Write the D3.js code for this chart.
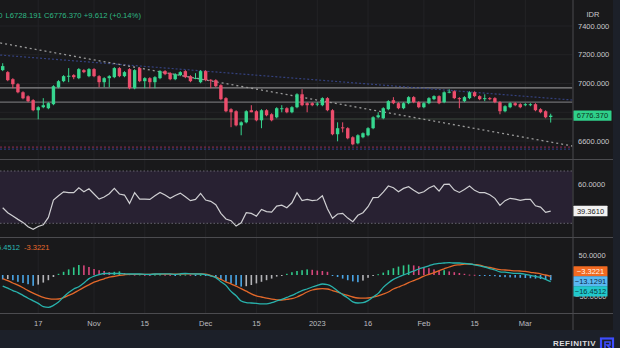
<!DOCTYPE html>
<html><head><meta charset="utf-8">
<script src="https://cdn.jsdelivr.net/npm/d3@7"></script>
<style>html,body{margin:0;padding:0;background:#1c2029;}svg{display:block;font-family:"Liberation Sans",Arial,sans-serif;}</style>
</head><body><svg id="c" width="620" height="348"></svg>
<script>
// ---------------- DATA ----------------
const dates = [
"2022-10-06","2022-10-07","2022-10-10","2022-10-11","2022-10-12","2022-10-13","2022-10-14","2022-10-17","2022-10-18","2022-10-19","2022-10-20","2022-10-21","2022-10-24","2022-10-25","2022-10-26","2022-10-27","2022-10-28","2022-10-31",
"2022-11-01","2022-11-02","2022-11-03","2022-11-04","2022-11-07","2022-11-08","2022-11-09","2022-11-10","2022-11-11","2022-11-14","2022-11-15","2022-11-16","2022-11-17","2022-11-18","2022-11-21","2022-11-22","2022-11-23","2022-11-24","2022-11-25","2022-11-28","2022-11-29","2022-11-30",
"2022-12-01","2022-12-02","2022-12-05","2022-12-06","2022-12-07","2022-12-08","2022-12-09","2022-12-12","2022-12-13","2022-12-14","2022-12-15","2022-12-16","2022-12-19","2022-12-20","2022-12-21","2022-12-22","2022-12-23","2022-12-26","2022-12-27","2022-12-28","2022-12-29","2022-12-30",
"2023-01-02","2023-01-03","2023-01-04","2023-01-05","2023-01-06","2023-01-09","2023-01-10","2023-01-11","2023-01-12","2023-01-13","2023-01-16","2023-01-17","2023-01-18","2023-01-19","2023-01-20","2023-01-24","2023-01-25","2023-01-26","2023-01-27","2023-01-30","2023-01-31",
"2023-02-01","2023-02-02","2023-02-03","2023-02-06","2023-02-07","2023-02-08","2023-02-09","2023-02-10","2023-02-13","2023-02-14","2023-02-15","2023-02-16","2023-02-17","2023-02-20","2023-02-21","2023-02-22","2023-02-23","2023-02-24","2023-02-27","2023-02-28",
"2023-03-01","2023-03-02","2023-03-03","2023-03-06","2023-03-07","2023-03-08"];

const open  = [7093,7079,7030,6995,6939,6911,6884,6814,6835,6828, 6856,6974,7016,7048,7058,7037,7093,7051,7100,7051, 7009,7037,7044,7107,7051,7100,6967,7107,7016,7037, 7009,7037,7086,7072,7030,7058,7086,7051,7034,7009, 7086,7026,7023,6988,6898,6821,6807,6709,6730,6814, 6807,6744,6814,6786,6765,6821,6828,6800,6835,6925, 6863,6863,6856,6849,6898,6814,6647,6695,6689,6626, 6584,6626,6640,6689,6765,6758,6821,6884,6863,6828, 6863,6905,6870,6835,6863,6891,6912,6870,6939,6946, 6898,6877,6898,6939,6912,6895,6898,6898,6870,6807, 6835,6863,6856,6849,6849,6856,6821,6807,6767];
const high  = [7141,7086,7037,7002,6946,6918,6891,6842,6898,6870, 6988,7023,7058,7107,7065,7107,7100,7107,7107,7058, 7044,7058,7114,7114,7086,7107,7100,7114,7044,7044, 7051,7093,7093,7079,7072,7086,7093,7058,7072,7093, 7093,7030,7030,6995,6905,6828,6814,6737,6814,6849, 6814,6821,6821,6793,6835,6849,6835,6842,6932,6960, 6870,6870,6870,6904,6905,6821,6730,6730,6696,6633, 6647,6660,6696,6772,6800,6835,6884,6905,6870,6870, 6912,6912,6877,6870,6905,6918,6918,6946,6960,6953, 6905,6912,6946,6946,6918,6925,6905,6905,6877,6849, 6870,6870,6863,6863,6863,6863,6828,6814,6790];
const low   = [7086,7016,6967,6932,6890,6870,6807,6751,6828,6821, 6849,6967,7009,7009,7030,7030,7072,7044,7044,6974, 6974,6974,7037,7044,7044,6960,6960,7009,6967,6967, 6967,7030,7058,7023,7023,7051,7037,7009,7030,7002, 7016,6967,6974,6884,6800,6696,6702,6640,6723,6800, 6737,6689,6772,6737,6758,6800,6793,6793,6828,6842, 6800,6842,6842,6842,6807,6640,6598,6660,6612,6570, 6577,6619,6633,6682,6758,6751,6814,6856,6821,6821, 6856,6863,6828,6828,6856,6884,6856,6863,6932,6891, 6828,6870,6891,6905,6884,6877,6884,6863,6786,6800, 6828,6842,6828,6842,6842,6807,6793,6758,6728.191];
const close = [7121,7023,6995,6939,6897,6877,6814,6835,6849,6863, 6981,7016,7051,7054,7044,7100,7079,7100,7051,7009, 7037,7051,7107,7051,7079,6967,7093,7016,7037,7009, 7044,7086,7065,7030,7065,7079,7044,7016,7039,7086, 7023,7020,6981,6891,6807,6800,6709,6730,6807,6800, 6744,6814,6779,6744,6828,6828,6800,6835,6925,6849, 6849,6849,6860,6898,6814,6647,6689,6690,6619,6577, 6640,6654,6689,6765,6779,6828,6877,6863,6828,6863, 6905,6870,6835,6863,6898,6912,6863,6939,6943,6898, 6891,6905,6939,6912,6891,6898,6891,6870,6807,6842, 6863,6849,6835,6856,6856,6814,6800,6765,6776.37];

const rsi = [41.9,38.1,35.5,33.0,30.7,27.4,25.4,27.6,28.9,34.5, 47.8,51.1,54.1,53.4,53.4,57.2,54.1,56.4,52.4,48.5, 50.1,52.6,56.7,52.4,51.6,45.2,53.4,48.5,48.5,48.3, 51.1,53.6,51.6,49.1,51.3,53.1,50.3,47.3,48.3,52.9, 47.8,46.8,44.2,37.6,33.3,32.0,27.9,30.4,38.1,37.6, 35.5,40.6,38.9,38.6,43.2,43.9,41.9,45.7,53.4,47.3, 48.3,47.3,47.8,51.1,41.2,33.8,37.1,37.6,34.0,31.2, 36.1,38.1,42.7,49.6,49.8,53.9,58.5,57.2,54.1,56.7, 58.0,55.2,52.9,54.1,57.0,58.7,54.6,59.8,60.0,55.4, 53.6,55.9,58.5,55.2,53.4,53.4,51.9,49.1,43.7,47.3, 49.1,48.5,47.5,48.3,48.3,43.4,42.4,38.3,39.361];

const macd = [-27.5,-33,-39,-44,-51,-58,-64.5,-71,-79,-81, -76,-67.5,-55,-44,-35,-29.5,-20,-9,-3,1.2, 3.7,3.7,3.7,3.7,3,2.5,2.5,2.5,1.7,1.2, 2.5,2.5,3,2.5,1.7,3,3.7,3,2.5,2.5, 1.2,-2,-6.7,-16.7,-26,-41,-52,-65,-69,-70, -71,-72,-72,-69,-65,-61,-56,-51,-45,-39, -35,-30,-26,-22.5,-24,-30,-40,-49,-57.5,-67, -70,-69,-64,-55,-46,-31,-20,-11,-5,0, 5,10,15,19,23,27,29,30,31,30, 30,29,27.5,25.5,23,20,16,12.5,8,7, 5.5,4,3.7,1.7,-1.2,-3.7,-6,-11,-16.4512];
const signal = [-9,-14,-20,-25.5,-32,-39,-45.5,-51,-56,-59, -60.5,-60,-56.5,-51,-45.5,-38,-31,-24.5,-18,-13.5, -9.5,-5.5,-3.2,-1.2,0.5,1.5,1.5,1.5,1.8,1.8, 2,2,2.2,2.3,2.2,2.4,2.6,2.7,2.7,2.6, 2.3,-1.5,-5,-11,-17,-22,-28,-34,-40.5,-47, -52,-55,-58,-60.5,-62,-62.5,-61,-59,-55,-49, -42.5,-37.5,-35,-34,-35,-39,-43,-47.5,-51,-55, -57.5,-58,-57.5,-55.5,-52,-47.5,-42.5,-35,-30,-25, -19,-14,-9,-3,1.7,6,11,15.5,20,24, 25.5,27,27.5,26,24.5,21,19,16,13.5,12.5, 11.5,10.5,10,9,6.8,5,3,0,-3.3221];
const hist = [-11,-10,-13,-17,-20,-23,-27,-24,-19,-13, -5,3,8,14,19,25,24,20,15,12, 10,7,8,9,5,2,1,1.5,0.5,0.3, 1,1.2,0.8,0.5,-0.3,0.6,1,0.5,-0.2,0.3, -0.8,-3,-7,-12,-16,-21,-25,-29,-28,-25, -21,-17,-13,-9,-4,-1.5,3,7,10,12, 14,13,11,10,8,-1,-5,-9,-13,-16, -18,-14,-7,-1,2,6,12,17,21,24, 26,24,22,20,17,14,11,12,9,7, 5,3,1,0.5,-0.4,-1,-1.5,-3,-5,-5.5, -6,-6.5,-7,-7.5,-8,-9,-10,-11,-13.1291];

const priceGrid = [7400, 7200, 7000, 6800, 6600];
const priceTickLabels = [7400, 7200, 7000, 6600];
const rsiTicks = [60];
const rsiBand = [70, 30];
const macdTicks = [50, -50];
const tickDates  = ["2022-10-17","2022-11-01","2022-11-15","2022-12-01","2022-12-15","2023-01-02","2023-01-16","2023-02-01","2023-02-15","2023-03-01"];
const tickLabels = ["17","Nov","15","Dec","15","2023","16","Feb","15","Mar"];
const levelPrices = [6969, 6871, 6753];
const dottedLevelPrices = [6558, 6544];
const trendIdx = [-0.5, 112.3];
const trendGray = [7282, 6565];
const trendBlue = [7198, 6885];
const header = {H: "H6790.000", rest: "L6728.191 C6776.370 +9.612 (+0.14%)"};

// ---------------- DRAW ----------------
const svg = d3.select("#c");
const n = dates.length;
const plotR = 572.5, axisR = 613;
const x  = d3.scaleLinear().domain([0, n-1]).range([2.7, 550.7]);
const yP = d3.scaleLinear().domain([6600, 7400]).range([141, 26]);
const yR = d3.scaleLinear().domain([30, 70]).range([223.3, 171]);
const yM = d3.scaleLinear().domain([-50, 50]).range([295, 255]);
const UP = "#36d68f", DN = "#ec4d6c";

svg.append("rect").attr("width",620).attr("height",348).attr("fill","#1c2029");
svg.append("rect").attr("width",axisR).attr("height",330).attr("fill","#19191b");

const defs = svg.append("defs");
function clip(id,y0,y1){defs.append("clipPath").attr("id",id).append("rect").attr("x",0).attr("y",y0).attr("width",plotR).attr("height",y1-y0);}
clip("cp",0,159); clip("cr",160,237); clip("cm",238,313);

const tIdx = tickDates.map(d => dates.indexOf(d));
svg.append("g").selectAll("line").data(tIdx).join("line")
  .attr("x1",d=>x(d)).attr("x2",d=>x(d)).attr("y1",0).attr("y2",313)
  .attr("stroke","#232326").attr("stroke-width",1);

// ---- price panel
const gp = svg.append("g").attr("clip-path","url(#cp)");
gp.selectAll("line.grid").data(priceGrid).join("line").attr("class","grid")
  .attr("x1",0).attr("x2",plotR).attr("y1",d=>yP(d)).attr("y2",d=>yP(d)).attr("stroke","#232326");
const levelColors = ["#8a8a8c","#6f6f72","#3f4a40"];
gp.selectAll("line.lvl").data(levelPrices).join("line").attr("class","lvl")
  .attr("x1",0).attr("x2",plotR).attr("y1",d=>yP(d)).attr("y2",d=>yP(d))
  .attr("stroke",(d,i)=>levelColors[i]).attr("stroke-width",1.2);
const dotCols = ["#7a2748","#2c3a7a"];
gp.selectAll("line.dl").data(dottedLevelPrices).join("line").attr("class","dl")
  .attr("x1",0).attr("x2",plotR).attr("y1",d=>yP(d)).attr("y2",d=>yP(d))
  .attr("stroke",(d,i)=>dotCols[i]).attr("stroke-width",1.2).attr("stroke-dasharray","2,2");
const tl = d3.line().x(d=>x(d[0])).y(d=>yP(d[1]));
gp.append("path").attr("d",tl(trendIdx.map((t,i)=>[t,trendBlue[i]])))
  .attr("stroke","#34417e").attr("stroke-width",1.2).attr("fill","none").attr("stroke-dasharray","2,2");
gp.append("path").attr("d",tl(trendIdx.map((t,i)=>[t,trendGray[i]])))
  .attr("stroke","#9a9a9a").attr("stroke-width",1.3).attr("fill","none").attr("stroke-dasharray","2,3");

const candles = d3.range(n).map(i=>({i,o:open[i],h:high[i],l:low[i],c:close[i]}));
const gc = gp.append("g");
gc.selectAll("line").data(candles).join("line")
  .attr("x1",d=>x(d.i)).attr("x2",d=>x(d.i)).attr("y1",d=>yP(d.h)).attr("y2",d=>yP(d.l))
  .attr("stroke",d=>d.c>=d.o?UP:DN).attr("stroke-width",1);
gc.selectAll("rect").data(candles).join("rect")
  .attr("x",d=>x(d.i)-1.7).attr("width",3.4)
  .attr("y",d=>yP(Math.max(d.o,d.c))).attr("height",d=>Math.max(1,Math.abs(yP(d.o)-yP(d.c))))
  .attr("fill",d=>d.c>=d.o?UP:DN);

svg.append("text").attr("x",2.5).attr("y",17.5).attr("text-anchor","end").attr("font-size",7.7).attr("fill","#2fb884").text(header.H);
svg.append("text").attr("x",5.5).attr("y",17.5).attr("font-size",7.7).attr("fill","#2fb884").text(header.rest);

// ---- RSI panel
const gr = svg.append("g").attr("clip-path","url(#cr)");
gr.append("rect").attr("x",0).attr("width",plotR).attr("y",yR(rsiBand[0])).attr("height",yR(rsiBand[1])-yR(rsiBand[0])).attr("fill","#282132");
gr.selectAll("line").data(rsiBand).join("line")
  .attr("x1",0).attr("x2",plotR).attr("y1",d=>yR(d)).attr("y2",d=>yR(d))
  .attr("stroke","#66646e").attr("stroke-width",1).attr("stroke-dasharray","1.5,2");
gr.append("path").attr("d",d3.line().x((d,i)=>x(i)).y(d=>yR(d))(rsi))
  .attr("fill","none").attr("stroke","#cfcfd2").attr("stroke-width",1.2);

// ---- MACD panel
const gm = svg.append("g").attr("clip-path","url(#cm)");
const hcol = (v,i) => { const p = i>0?hist[i-1]:v+1; return v>=0 ? (v>=p?"#2fc98a":"#d8467c") : (v<=p?"#4aa6e6":"#b4b4b8"); };
gm.selectAll("rect").data(hist).join("rect")
  .attr("x",(d,i)=>x(i)-0.8).attr("width",1.6)
  .attr("y",d=>Math.min(yM(d),yM(0))).attr("height",d=>Math.max(1,Math.abs(yM(d)-yM(0))))
  .attr("fill",(d,i)=>hcol(d,i));
const ml = d3.line().x((d,i)=>x(i)).y(d=>yM(d)).curve(d3.curveMonotoneX);
gm.append("path").attr("d",ml(signal)).attr("fill","none").attr("stroke","#e3682a").attr("stroke-width",1.3);
gm.append("path").attr("d",ml(macd)).attr("fill","none").attr("stroke","#29b3ad").attr("stroke-width",1.3);
svg.append("text").attr("x",20).attr("y",250).attr("text-anchor","end").attr("font-size",7.5).attr("fill","#29b9b3").text("-16.4512");
svg.append("text").attr("x",24).attr("y",250).attr("font-size",7.5).attr("fill","#e8692c").text("-3.3221");

svg.selectAll("line.sep").data([159.5,237.5,313.5]).join("line").attr("class","sep")
  .attr("x1",0).attr("x2",axisR).attr("y1",d=>d).attr("y2",d=>d).attr("stroke","#4b4b4f").attr("stroke-width",1.2);
svg.append("line").attr("x1",plotR+0.5).attr("x2",plotR+0.5).attr("y1",0).attr("y2",330).attr("stroke","#4b4b4f").attr("stroke-width",1);

const fs = 7.5, lblC = "#c9c9cc";
svg.append("text").attr("x",593).attr("y",17).attr("text-anchor","middle").attr("font-size",fs).attr("fill",lblC).text("IDR");
svg.selectAll("text.pt").data(priceTickLabels).join("text").attr("class","pt")
  .attr("x",578).attr("y",d=>yP(d)+2.7).attr("font-size",fs).attr("fill",lblC).text(d=>d3.format(".3f")(d));
svg.selectAll("text.rt").data(rsiTicks).join("text").attr("class","rt")
  .attr("x",578).attr("y",d=>yR(d)+2.7).attr("font-size",fs).attr("fill",lblC).text(d=>d3.format(".4f")(d));
svg.selectAll("text.mt").data(macdTicks).join("text").attr("class","mt")
  .attr("x",d=>d<0?575:578.5).attr("y",d=>yM(d)+(d<0?4:2.7)).attr("font-size",fs).attr("fill",lblC).text(d=>d3.format(".4f")(d));

function box(yc,w,fill,txtCol,label){
  svg.append("rect").attr("x",573.5).attr("y",yc-5.2).attr("width",w).attr("height",10.4).attr("fill",fill).attr("rx",0.5);
  svg.append("text").attr("x",573.5+w/2).attr("y",yc+2.7).attr("text-anchor","middle").attr("font-size",fs).attr("fill",txtCol).text(label);
}
const last = n-1;
box(yP(close[last]),38,"#2fd08a","#0b3320",d3.format(".3f")(close[last]));
box(yR(rsi[last]),34,"#f2f2f2","#222",d3.format(".4f")(rsi[last]));
const mLabels = [
  {v:signal[last],fill:"#f26a21",t:"#fff4ea"},
  {v:hist[last],fill:"#5ab8f2",t:"#0c2a44"},
  {v:macd[last],fill:"#22c8cc",t:"#083c3c"}];
let yc0 = yM(mLabels[0].v)-5;
mLabels.forEach((m,k)=>box(yc0+k*10,34,m.fill,m.t,d3.format(".4f")(m.v)));

svg.selectAll("text.xt").data(tIdx).join("text").attr("class","xt")
  .attr("x",d=>x(d)).attr("y",325.5).attr("text-anchor","middle").attr("font-size",fs).attr("fill","#bdbdc0")
  .text((d,i)=>tickLabels[i]);

svg.append("text").attr("x",553).attr("y",345.5).attr("font-size",8).attr("font-weight","bold")
  .attr("letter-spacing",0.5).attr("fill","#dcdcdf").text("REFINITIV");
svg.append("rect").attr("x",601).attr("y",338.5).attr("width",12).attr("height",12).attr("fill","none").attr("stroke","#3d4dff").attr("stroke-width",2.2);
svg.append("path").attr("d","M605,348 L605,342 L610,342 L610,345 L607,345 L611,349").attr("fill","none").attr("stroke","#3d4dff").attr("stroke-width",1.6);
</script></body></html>
